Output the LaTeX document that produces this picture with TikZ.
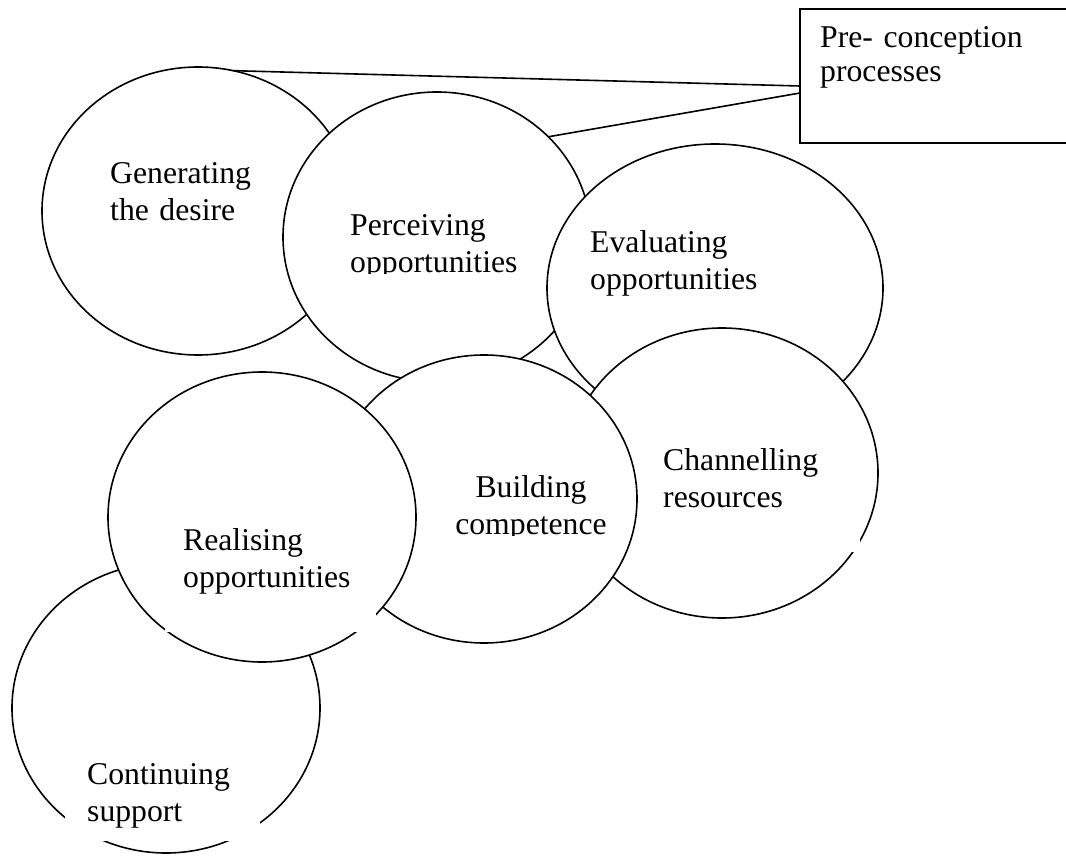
\documentclass[tikz,border=0pt]{standalone}
\usepackage{fontspec}
\setmainfont{Liberation Serif}
\usetikzlibrary{shapes.geometric,calc}
\begin{document}
\begin{tikzpicture}[x=1pt,y=-1pt,
  bubble/.style={ellipse, draw, fill=white, line width=1.6pt, inner sep=0pt, outer sep=0pt},
  lbl/.style={inner sep=0pt, text width=240pt, align=left, anchor=base west,
    font=\fontsize{31.7}{37}\selectfont},
  mask/.style={fill=white},
  conn/.style={line width=1.6pt}]
\clip (0,0) rectangle (1066,856);
\fill[white] (0,0) rectangle (1066,856);
% circles in stacking order
\node[bubble, minimum width=312pt, minimum height=288pt] (gen) at (198,211) {};
\node[lbl] (tgen) at (110,183) {Generating\\the desire};
\node[bubble, minimum width=308pt, minimum height=290pt] (per) at (437,237) {};
\begin{scope}
  \clip (330,190) rectangle (600,273);
  \node[lbl] (tper) at (350,235) {Perceiving\\opportunities};
\end{scope}
\node[bubble, minimum width=336pt, minimum height=288pt] (eva) at (715,288) {};
\node[lbl] (teva) at (590,252) {Evaluating\\opportunities};
\node[bubble, minimum width=312pt, minimum height=290pt] (cha) at (722,473) {};
\fill[mask] (645,435) rectangle (860,552);
\node[lbl] (tcha) at (663,470) {Channelling\\resources};
\node[bubble, minimum width=306pt, minimum height=288pt] (bui) at (484,499) {};
\begin{scope}
  \clip (420,450) rectangle (640,535);
  \node[lbl, align=center, anchor=base] (tbui) at (531,497) {Building\\competence};
\end{scope}
\node[bubble, minimum width=308pt, minimum height=290pt] (con) at (166,708) {};
\fill[mask] (65,745) rectangle (260,841);
\node[lbl] (tcon) at (87,784) {Continuing\\support};
\node[bubble, minimum width=308pt, minimum height=290pt] (rea) at (262,517) {};
\fill[mask] (165,525) rectangle (376,632);
\node[lbl] (trea) at (183,550) {Realising\\opportunities};
% pre-conception box
\node[draw, line width=2.2pt, fill=white, anchor=north west, inner sep=0pt, outer sep=0pt,
  minimum width=320pt, minimum height=134pt] (pre) at (800,9) {};
\node[lbl, font=\fontsize{31.7}{34}\selectfont] (tpre) at (820,48) {Pre- conception\\processes};
\coordinate (c1) at ($(pre.north west)+(0,77)$);
\coordinate (c2) at ($(pre.north west)+(0,84)$);
\draw[conn] (gen.76) -- (c1);
\draw[conn] (per.42) -- (c2);
\end{tikzpicture}
\end{document}
